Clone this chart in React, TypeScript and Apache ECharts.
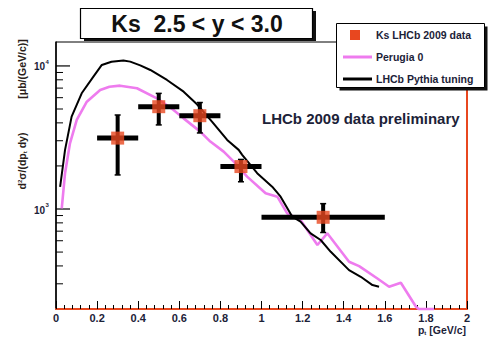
import React, { useEffect, useRef } from "react";
import * as echarts from "echarts";

// LHCb Pythia tuning (black curve)
const blackX = [0.02, 0.044, 0.076, 0.125, 0.182, 0.223, 0.27, 0.328, 0.361, 0.41, 0.459, 0.54, 0.621, 0.686, 0.76, 0.833, 0.889, 0.906, 0.979, 1.052, 1.093, 1.15, 1.19, 1.239, 1.288, 1.337, 1.426, 1.483, 1.54, 1.572];
const blackY = [1430, 2590, 4420, 6440, 8410, 10160, 10700, 10900, 10720, 10100, 9370, 7980, 6610, 5400, 4070, 3040, 2590, 2390, 1780, 1432, 1219, 883, 815, 676, 607, 502, 374, 336, 294, 286];

// Perugia 0 (magenta curve)
const magX = [0.028, 0.044, 0.068, 0.101, 0.15, 0.215, 0.26, 0.312, 0.394, 0.491, 0.572, 0.621, 0.702, 0.751, 0.816, 0.865, 0.93, 1.02, 1.077, 1.125, 1.19, 1.272, 1.32, 1.426, 1.475, 1.564, 1.621, 1.678, 1.751, 1.765, 1.84];
const magY = [1010, 1780, 2880, 4190, 5620, 6790, 7150, 7280, 6980, 5940, 4920, 4300, 3475, 2960, 2518, 2143, 1683, 1288, 1219, 933, 838, 560, 676, 428, 399, 327, 286, 305, 208, 200, 200];

// Ks LHCb 2009 data
const ptX = [0.3, 0.5, 0.7, 0.9, 1.3];
const ptY = [3130, 5190, 4490, 1980, 875];
const ptXLo = [0.2, 0.4, 0.6, 0.8, 1.0];
const ptXHi = [0.4, 0.6, 0.8, 1.0, 1.6];
const ptYLo = [1730, 3870, 3400, 1550, 685];
const ptYHi = [4540, 6430, 5550, 2220, 1090];

// axis ticks
const yMajorTicks = [1000, 10000];
const yMinorTicks = [300, 400, 500, 600, 700, 800, 900, 2000, 3000, 4000, 5000, 6000, 7000, 8000, 9000];

const FONT = "'Liberation Sans', Arial, Helvetica, sans-serif";
const INK = "#1c2238";
const RED = "#e8471f";
const MAGENTA = "#ee7bee";

export default function App() {
  const ref = useRef<HTMLDivElement>(null);

  useEffect(() => {
    if (!ref.current) return;
    const chart = echarts.init(ref.current, null, { renderer: "svg" });

    const option: any = {
      animation: false,
      backgroundColor: "#ffffff",
      grid: {
        left: 56,
        right: 23,
        top: 42,
        bottom: 28,
        show: true,
        borderColor: "#000",
        borderWidth: 1,
        backgroundColor: "transparent",
      },
      xAxis: {
        type: "value",
        min: 0,
        max: 2,
        interval: 0.2,
        axisLine: { show: true, onZero: false, lineStyle: { color: RED, width: 2 } },
        axisTick: { show: true, inside: true, length: 8, lineStyle: { color: "#000", width: 1 } },
        minorTick: { show: true, splitNumber: 5, length: 4, lineStyle: { color: "#000", width: 1 } },
        axisLabel: {
          show: true,
          margin: 3,
          color: INK,
          fontFamily: FONT,
          fontWeight: "bold",
          fontSize: 11,
        },
        splitLine: { show: false },
        minorSplitLine: { show: false },
      },
      yAxis: [
        {
          type: "log",
          logBase: 10,
          min: 200,
          max: 14700,
          axisLine: { show: true, lineStyle: { color: "#000", width: 1.5 } },
          axisTick: { show: false },
          axisLabel: { show: false },
          splitLine: { show: false },
        },
        {
          type: "log",
          logBase: 10,
          min: 200,
          max: 14700,
          position: "right",
          axisLine: { show: true, lineStyle: { color: RED, width: 2 } },
          axisTick: { show: false },
          axisLabel: { show: false },
          splitLine: { show: false },
        },
      ],
      series: [
        {
          type: "custom",
          name: "yMinorTicks",
          silent: true,
          data: yMinorTicks.map((v) => [0, v]),
          encode: { x: 0, y: 1 },
          renderItem: (params: any, api: any) => {
            const p = api.coord([api.value(0), api.value(1)]);
            return {
              type: "line",
              shape: { x1: p[0], y1: p[1], x2: p[0] + 7, y2: p[1] },
              style: { stroke: "#000", lineWidth: 1 },
            };
          },
        },
        {
          type: "custom",
          name: "yMajorTicks",
          silent: true,
          data: yMajorTicks.map((v) => [0, v]),
          encode: { x: 0, y: 1 },
          renderItem: (params: any, api: any) => {
            const v = api.value(1);
            const p = api.coord([api.value(0), v]);
            const e = Math.round(Math.log10(v));
            return {
              type: "group",
              children: [
                {
                  type: "line",
                  shape: { x1: p[0], y1: p[1], x2: p[0] + 14, y2: p[1] },
                  style: { stroke: "#000", lineWidth: 1.2 },
                },
                {
                  type: "text",
                  x: p[0] - 11,
                  y: p[1] + 1,
                  style: {
                    text: "10",
                    align: "right",
                    verticalAlign: "middle",
                    fill: INK,
                    font: `bold 10px ${FONT}`,
                  },
                },
                {
                  type: "text",
                  x: p[0] - 10.5,
                  y: p[1] - 4,
                  style: {
                    text: String(e),
                    align: "left",
                    verticalAlign: "middle",
                    fill: INK,
                    font: `bold 6px ${FONT}`,
                  },
                },
              ],
            };
          },
        },
        {
          type: "line",
          name: "Perugia 0",
          data: magX.map((x, i) => [x, magY[i]]),
          symbol: "none",
          showSymbol: false,
          clip: false,
          lineStyle: { color: MAGENTA, width: 2.6 },
          itemStyle: { color: MAGENTA },
          z: 3,
        },
        {
          type: "line",
          name: "LHCb Pythia tuning",
          data: blackX.map((x, i) => [x, blackY[i]]),
          symbol: "none",
          showSymbol: false,
          clip: true,
          lineStyle: { color: "#000", width: 2 },
          itemStyle: { color: "#000" },
          z: 4,
        },
        {
          type: "custom",
          name: "errors",
          silent: true,
          z: 5,
          data: ptX.map((x, i) => [x, ptY[i], ptXLo[i], ptXHi[i], ptYLo[i], ptYHi[i]]),
          encode: { x: [0, 2, 3], y: [1, 4, 5] },
          renderItem: (params: any, api: any) => {
            const x = api.value(0);
            const y = api.value(1);
            const c = api.coord([x, y]);
            const l = api.coord([api.value(2), y]);
            const r = api.coord([api.value(3), y]);
            const lo = api.coord([x, api.value(4)]);
            const hi = api.coord([x, api.value(5)]);
            const cap = 3;
            return {
              type: "group",
              children: [
                {
                  type: "line",
                  shape: { x1: l[0], y1: c[1], x2: r[0], y2: c[1] },
                  style: { stroke: "#000", lineWidth: 5 },
                },
                {
                  type: "line",
                  shape: { x1: c[0], y1: lo[1], x2: c[0], y2: hi[1] },
                  style: { stroke: "#000", lineWidth: 4 },
                },
                {
                  type: "line",
                  shape: { x1: c[0] - cap, y1: lo[1], x2: c[0] + cap, y2: lo[1] },
                  style: { stroke: "#000", lineWidth: 1.5 },
                },
                {
                  type: "line",
                  shape: { x1: c[0] - cap, y1: hi[1], x2: c[0] + cap, y2: hi[1] },
                  style: { stroke: "#000", lineWidth: 1.5 },
                },
              ],
            };
          },
        },
        {
          type: "scatter",
          name: "Ks LHCb 2009 data",
          data: ptX.map((x, i) => [x, ptY[i]]),
          symbol: "rect",
          symbolSize: 13,
          itemStyle: { color: RED },
          z: 6,
        },
      ],
      graphic: [
        // title box
        { type: "rect", z: 100, shape: { x: 84, y: 11, width: 232, height: 30 }, style: { fill: "#111" } },
        { type: "rect", z: 101, shape: { x: 80.5, y: 8.5, width: 232, height: 30 }, style: { fill: "#fff", stroke: "#000", lineWidth: 1.2 } },
        {
          type: "text",
          z: 102,
          x: 197,
          y: 24,
          style: { text: "Ks  2.5 < y < 3.0", align: "center", verticalAlign: "middle", fill: "#111", font: `bold 23px ${FONT}` },
        },
        // legend box
        { type: "rect", z: 100, shape: { x: 339.5, y: 26.5, width: 148, height: 64 }, style: { fill: "#111" } },
        { type: "rect", z: 101, shape: { x: 336.5, y: 23.5, width: 148, height: 64 }, style: { fill: "#fff", stroke: "#000", lineWidth: 1 } },
        { type: "rect", z: 102, shape: { x: 350, y: 30, width: 10, height: 10 }, style: { fill: RED } },
        { type: "line", z: 102, shape: { x1: 343, y1: 57, x2: 372, y2: 57 }, style: { stroke: MAGENTA, lineWidth: 3 } },
        { type: "line", z: 102, shape: { x1: 343, y1: 79, x2: 372, y2: 79 }, style: { stroke: "#000", lineWidth: 3 } },
        { type: "text", z: 102, x: 376, y: 35, style: { text: "Ks LHCb 2009 data", verticalAlign: "middle", fill: INK, font: `bold 10.5px ${FONT}` } },
        { type: "text", z: 102, x: 376, y: 57, style: { text: "Perugia 0", verticalAlign: "middle", fill: INK, font: `bold 10.5px ${FONT}` } },
        { type: "text", z: 102, x: 376, y: 79, style: { text: "LHCb Pythia tuning", verticalAlign: "middle", fill: INK, font: `bold 10.5px ${FONT}` } },
        // annotation
        {
          type: "text",
          z: 102,
          x: 262,
          y: 118,
          style: { text: "LHCb 2009 data preliminary", verticalAlign: "middle", fill: INK, font: `bold 15px ${FONT}` },
        },
        // y axis title (two parts, rotated)
        {
          type: "text",
          z: 102,
          x: 22,
          y: 161,
          rotation: Math.PI / 2,
          style: {
            text: "d{sup|2}σ/(dp{sub|t} dy)",
            align: "center",
            verticalAlign: "middle",
            fill: "#2a1e1a",
            font: `bold 10.5px ${FONT}`,
            rich: {
              sup: { fontSize: 6, fontWeight: "bold", fontFamily: FONT, verticalAlign: "top", fill: "#2a1e1a" },
              sub: { fontSize: 6, fontWeight: "bold", fontFamily: FONT, verticalAlign: "bottom", fill: "#2a1e1a" },
            },
          },
        },
        {
          type: "text",
          z: 102,
          x: 22,
          y: 69,
          rotation: Math.PI / 2,
          style: {
            text: "[μb/(GeV/c)]",
            align: "center",
            verticalAlign: "middle",
            fill: "#2a1e1a",
            font: `bold 10.5px ${FONT}`,
          },
        },
        // x axis title
        {
          type: "text",
          z: 102,
          x: 466,
          y: 330,
          style: {
            text: "p{sub|t} [GeV/c]",
            align: "right",
            verticalAlign: "middle",
            fill: INK,
            font: `bold 10.5px ${FONT}`,
            rich: {
              sub: { fontSize: 6, fontWeight: "bold", fontFamily: FONT, verticalAlign: "bottom", fill: INK },
            },
          },
        },
      ],
    };

    chart.setOption(option);
    return () => chart.dispose();
  }, []);

  return (
    <div
      ref={ref}
      style={{ position: "absolute", left: 0, top: 0, width: 490, height: 337 }}
    />
  );
}
